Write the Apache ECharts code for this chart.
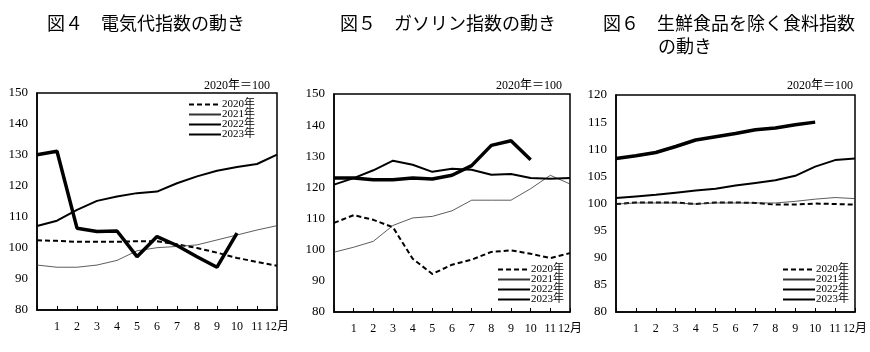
<!DOCTYPE html>
<html>
<head>
<meta charset="utf-8">
<script src="https://cdn.jsdelivr.net/npm/echarts@6/dist/echarts.min.js"></script>
<style>
  html, body { margin: 0; padding: 0; background: #fff; }
  #main { width: 870px; height: 352px; }
</style>
</head>
<body>
<div id="main"></div>
<script>
// x軸ラベル（先頭は前年12月の位置）
var months = ['', '1', '2', '3', '4', '5', '6', '7', '8', '9', '10', '11', '12月'];
var seriesNames = ['2020年', '2021年', '2022年', '2023年'];

// 図4 電気代指数
var elec2020 = [102.5, 102.3, 102.0, 102.0, 102.0, 102.2, 102.2, 101.2, 100.0, 98.5, 96.8, 95.5, 94.3];
var elec2021 = [94.5, 93.8, 93.8, 94.5, 96.0, 99.1, 100.1, 100.5, 101.0, 102.6, 104.2, 105.8, 107.2];
var elec2022 = [107.1, 108.8, 112.3, 115.2, 116.6, 117.7, 118.2, 120.9, 123.1, 124.9, 126.1, 127.1, 130.1];
var elec2023 = [130.1, 131.2, 106.4, 105.3, 105.5, 97.2, 103.7, 100.8, 97.2, 93.8, 104.8];

// 図5 ガソリン指数
var gas2020 = [108.6, 111.1, 109.6, 107.2, 97.1, 92.2, 95.2, 96.8, 99.3, 99.8, 98.7, 97.3, 98.9];
var gas2021 = [99.2, 100.8, 102.7, 107.8, 110.2, 110.7, 112.5, 115.9, 115.9, 115.9, 119.6, 123.9, 121.1];
var gas2022 = [120.9, 123.0, 125.5, 128.6, 127.3, 125.0, 126.0, 125.7, 124.1, 124.3, 123.0, 122.8, 123.0];
var gas2023 = [123.0, 123.0, 122.5, 122.5, 123.0, 122.7, 123.9, 127.0, 133.5, 135.0, 128.9];

// 図6 生鮮食品を除く食料指数
var food2020 = [99.9, 100.2, 100.2, 100.2, 99.9, 100.2, 100.2, 100.1, 99.8, 99.8, 100.0, 99.9, 99.8];
var food2021 = [99.9, 100.1, 100.1, 100.1, 99.9, 100.1, 100.1, 100.1, 100.1, 100.4, 100.8, 101.1, 100.9];
var food2022 = [101.0, 101.3, 101.6, 102.0, 102.4, 102.7, 103.3, 103.8, 104.3, 105.1, 106.8, 108.0, 108.3];
var food2023 = [108.3, 108.8, 109.4, 110.5, 111.7, 112.3, 112.9, 113.6, 113.9, 114.5, 115.0];

var numFont = 'Liberation Serif, "Noto Sans CJK JP", serif';
var jpFont = '"Noto Sans CJK JP", sans-serif';

var lineStyles = [
    {color: '#000', width: 2, type: [5, 3]},
    {color: '#333', width: 0.8, type: 'solid'},
    {color: '#000', width: 2, type: 'solid'},
    {color: '#000', width: 3.5, type: 'solid'}
];

var grids = [
    {left: 37, right: 593, top: 93, bottom: 42},
    {left: 334, right: 300, top: 94, bottom: 40},
    {left: 616, right: 15, top: 95, bottom: 40}
];
var yRanges = [[80, 150, 10], [80, 150, 10], [80, 120, 5]];
var chartData = [
    [elec2020, elec2021, elec2022, elec2023],
    [gas2020, gas2021, gas2022, gas2023],
    [food2020, food2021, food2022, food2023]
];

var xAxes = [], yAxes = [], series = [];
grids.forEach(function (g, i) {
    g.show = true;
    g.borderColor = '#000';
    g.borderWidth = 1.5;
    xAxes.push({
        gridIndex: i,
        type: 'category',
        boundaryGap: false,
        data: months,
        axisLine: {lineStyle: {color: '#000', width: 1.5}},
        axisTick: {inside: true, length: 4, lineStyle: {color: '#000'}},
        axisLabel: {interval: 0, color: '#000', fontSize: 12, fontFamily: numFont, margin: 11}
    });
    yAxes.push({
        gridIndex: i,
        type: 'value',
        min: yRanges[i][0],
        max: yRanges[i][1],
        interval: yRanges[i][2],
        axisLine: {show: true, lineStyle: {color: '#000', width: 1.5}},
        axisTick: {show: false},
        splitLine: {show: false},
        axisLabel: {color: '#000', fontSize: 13, fontFamily: numFont, margin: 9}
    });
    chartData[i].forEach(function (d, k) {
        series.push({
            name: seriesNames[k],
            type: 'line',
            xAxisIndex: i,
            yAxisIndex: i,
            data: d,
            symbol: 'none',
            color: '#000',
            lineStyle: lineStyles[k],
            z: 2 + k
        });
    });
});

function legendAt(left, top) {
    return {
        data: seriesNames,
        orient: 'vertical',
        left: left,
        top: top,
        itemWidth: 32,
        itemHeight: 10,
        itemGap: -1,
        padding: 0,
        selectedMode: false,
        itemStyle: {color: 'rgba(0,0,0,0)', borderWidth: 0},
        textStyle: {fontSize: 11, fontFamily: numFont, color: '#000', padding: [0, 0, 0, -4]}
    };
}

var titleStyle = {fontSize: 18, fontWeight: 'normal', color: '#000', fontFamily: jpFont};
var baseStyle = {fontSize: 12, fontWeight: 'normal', color: '#000', fontFamily: numFont};

var option = {
    animation: false,
    title: [
        {text: '図４　電気代指数の動き', left: 47, top: 14, textStyle: titleStyle, padding: 0},
        {text: '図５　ガソリン指数の動き', left: 340, top: 14, textStyle: titleStyle, padding: 0},
        {text: '図６　生鮮食品を除く食料指数', left: 603, top: 14, textStyle: titleStyle, padding: 0},
        {text: 'の動き', left: 658, top: 37, textStyle: titleStyle, padding: 0},
        {text: '2020年＝100', right: 600, top: 80, textStyle: baseStyle, padding: 0},
        {text: '2020年＝100', right: 308, top: 80, textStyle: baseStyle, padding: 0},
        {text: '2020年＝100', right: 17, top: 80, textStyle: baseStyle, padding: 0}
    ],
    legend: [legendAt(188, 99), legendAt(497, 264), legendAt(782, 264)],
    grid: grids,
    xAxis: xAxes,
    yAxis: yAxes,
    series: series
};

var chart = echarts.init(document.getElementById('main'));
chart.setOption(option);
window.onresize = chart.resize;
</script>
</body>
</html>
